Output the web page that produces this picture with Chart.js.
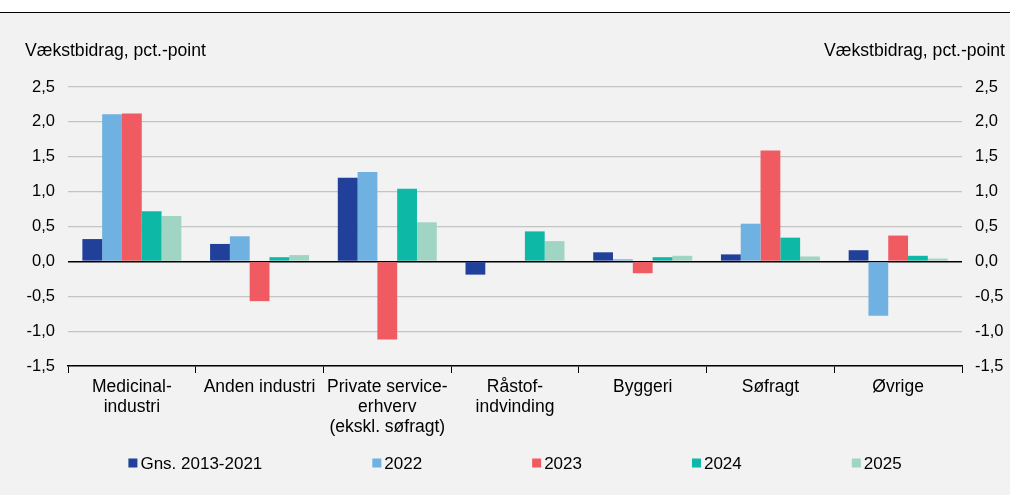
<!DOCTYPE html>
<html>
<head>
<meta charset="utf-8">
<script src="https://cdn.jsdelivr.net/npm/chart.js@4.4.1/dist/chart.umd.min.js"></script>
<style>
  body { margin: 0; background: #fff; font-family: "Liberation Sans", Arial, sans-serif; }
  #top { height: 12px; border-bottom: 1px solid #000; }
  #wrap { position: relative; width: 1010px; height: 482px; background: #f2f2f2; }
  .ttl { position: absolute; top: 27px; font-size: 17.6px; line-height: 20px; color: #000; }
</style>
</head>
<body>
<div id="top"></div>
<div id="wrap">
  <div class="ttl" style="left:25px">Vækstbidrag, pct.-point</div>
  <div class="ttl" style="right:5px">Vækstbidrag, pct.-point</div>
  <canvas id="chart" width="1010" height="482"></canvas>
</div>
<script>
// kategorier og serier
const categories = [
  ['Medicinal-', 'industri'],
  'Anden industri',
  ['Private service-', 'erhverv', '(ekskl. søfragt)'],
  ['Råstof-', 'indvinding'],
  'Byggeri',
  'Søfragt',
  'Øvrige'
];
const seriesNames = ['Gns. 2013-2021', '2022', '2023', '2024', '2025'];
const gns1321 = [0.32, 0.25, 1.20, -0.19, 0.13, 0.10, 0.16];
const v2022   = [2.11, 0.36, 1.28, 0.01, 0.03, 0.54, -0.78];
const v2023   = [2.12, -0.57, -1.12, 0.01, -0.17, 1.59, 0.37];
const v2024   = [0.72, 0.06, 1.04, 0.43, 0.06, 0.34, 0.08];
const v2025   = [0.65, 0.09, 0.56, 0.29, 0.08, 0.07, 0.04];
const yTicks = [-1.5, -1.0, -0.5, 0.0, 0.5, 1.0, 1.5, 2.0, 2.5];

const colors = ['#21409a', '#6fb1e0', '#f05b61', '#0db8a6', '#9fd5c2'];
const fontFam = '"Liberation Sans", Arial, sans-serif';
const fmt = v => v.toFixed(1).replace('.', ',');

const legendPlugin = {
  id: 'bottomLegend',
  afterDraw(chart) {
    const c = chart.ctx;
    c.save();
    c.font = '17px ' + fontFam;
    c.textBaseline = 'middle';
    const box = 9, gap = 3, spacing = 110;
    const items = chart.data.datasets.map(d => ({
      label: d.label, color: d.backgroundColor,
      w: box + gap + c.measureText(d.label).width
    }));
    const total = items.reduce((s, i) => s + i.w, 0) + spacing * (items.length - 1);
    let x = (chart.chartArea.left + chart.chartArea.right) / 2 - total / 2;
    const y = 450;
    items.forEach(it => {
      c.fillStyle = it.color;
      c.fillRect(x, y - box / 2, box, box);
      c.fillStyle = '#000';
      c.fillText(it.label, x + box + gap, y + 1);
      x += it.w + spacing;
    });
    c.restore();
  }
};

const series = [gns1321, v2022, v2023, v2024, v2025];

new Chart(document.getElementById('chart'), {
  type: 'bar',
  data: {
    labels: categories,
    datasets: series.map((d, i) => ({
      label: seriesNames[i],
      data: d,
      backgroundColor: colors[i],
      categoryPercentage: 0.775,
      barPercentage: 1.0,
      borderWidth: 0
    }))
  },
  plugins: [legendPlugin],
  options: {
    responsive: false,
    devicePixelRatio: 1,
    animation: false,
    layout: { padding: { top: 74, left: 0, right: 0, bottom: 0 } },
    plugins: { legend: { display: false }, tooltip: { enabled: false } },
    scales: {
      x: {
        grid: { display: true, drawOnChartArea: false, drawTicks: true, tickLength: 7, color: '#000', offset: true },
        border: { display: true, color: '#000', width: 1.5 },
        ticks: { color: '#000', padding: 4, maxRotation: 0, autoSkip: false, font: { family: fontFam, size: 17.5, lineHeight: 1.15 } },
        afterFit(s) { s.height = 129; }
      },
      y: {
        position: 'left',
        min: yTicks[0], max: yTicks[yTicks.length - 1],
        afterBuildTicks(s) { s.ticks = yTicks.map(v => ({ value: v })); },
        grid: {
          drawTicks: false,
          color: c => c.tick.value === 0 ? '#000' : '#c4c4c4',
          lineWidth: c => c.tick.value === 0 ? 1.5 : 1.2
        },
        border: { display: false },
        ticks: { color: '#000', padding: 13, callback: v => fmt(v), font: { family: fontFam, size: 16.5 } },
        afterFit(s) { s.width = 68; }
      },
      y2: {
        position: 'right',
        min: yTicks[0], max: yTicks[yTicks.length - 1],
        afterBuildTicks(s) { s.ticks = yTicks.map(v => ({ value: v })); },
        grid: { display: false, drawTicks: false },
        border: { display: false },
        ticks: { color: '#000', padding: 13, callback: v => fmt(v), font: { family: fontFam, size: 16.5 } },
        afterFit(s) { s.width = 48; }
      }
    }
  }
});
</script>
</body>
</html>
